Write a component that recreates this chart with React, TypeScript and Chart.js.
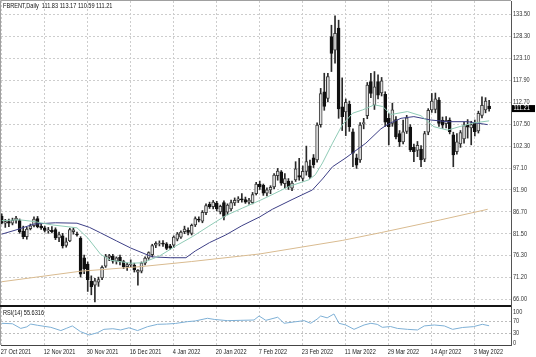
import React, { useEffect, useRef } from "react";
import { Chart, registerables } from "chart.js";
Chart.register(...registerables);

const TITLE = "FBRENT,Daily  111.83 113.17 110.59 111.21";
const RSI_TITLE = "RSI(14) 55.6316";
const LAST_PRICE = 111.21;

const opens = [
  85.6, 84.0, 84.4, 84.0, 84.7, 84.6, 82.1, 80.8, 82.7, 83.4,
  85.1, 83.3, 82.9, 82.2, 82.3, 82.5, 80.5, 81.0, 78.7, 79.8,
  82.0, 81.4, 80.4, 75.8, 74.3, 70.2, 69.3, 70.0, 71.0, 73.8,
  75.9, 76.2, 75.0, 75.9, 74.9, 73.7, 74.1, 74.0, 72.4, 72.6,
  74.5, 75.7, 76.5, 78.8, 79.2, 79.3, 79.1, 78.6, 78.8, 80.2,
  80.7, 82.0, 82.3, 81.6, 83.6, 85.0, 84.5, 86.5, 88.5, 87.9,
  88.8, 86.7, 88.9, 86.6, 87.4, 88.8, 89.4, 89.8, 89.6, 89.0,
  88.9, 91.0, 93.3, 93.0, 91.1, 91.9, 92.6, 95.3, 96.2, 93.4,
  94.0, 92.3, 94.3, 95.3, 94.6, 96.3, 97.6, 99.5, 99.0, 107.4,
  115.2, 113.6, 128.3, 125.1, 130.3, 111.6, 110.4, 112.2, 105.7, 99.5,
  99.0, 107.6, 109.5, 117.6, 112.0, 117.6, 114.9, 114.6, 108.9, 107.7,
  108.6, 105.3, 103.3, 105.8, 106.8, 102.0, 101.3, 101.6, 99.2, 105.6,
  110.9, 111.0, 113.2, 108.4, 107.6, 108.5, 105.0, 101.0, 102.8, 104.0,
  107.3, 106.6, 107.7, 105.9, 109.6, 110.9, 111.83,
];
const highs = [
  86.2, 84.9, 85.0, 85.2, 85.6, 85.0, 83.3, 83.0, 83.8, 85.5,
  85.6, 83.9, 83.3, 83.0, 83.2, 82.9, 81.9, 81.6, 80.5, 82.8,
  82.9, 81.9, 80.8, 76.4, 74.8, 71.5, 70.9, 71.2, 73.9, 76.6,
  76.6, 76.6, 76.0, 76.4, 75.2, 74.5, 75.3, 74.5, 73.0, 74.8,
  76.0, 77.2, 79.0, 79.6, 79.8, 79.9, 79.4, 79.0, 81.0, 81.8,
  82.2, 83.3, 82.9, 83.8, 85.5, 85.5, 87.0, 88.6, 89.0, 89.4,
  89.2, 88.3, 89.3, 88.6, 89.5, 90.0, 90.3, 91.0, 90.2, 89.9,
  91.3, 93.7, 94.0, 93.3, 92.4, 92.9, 95.8, 97.0, 96.5, 95.8,
  94.6, 94.0, 98.6, 99.4, 97.6, 102.3, 99.0, 100.3, 107.8, 116.0,
  119.6, 119.6, 131.0, 133.2, 132.2, 118.5, 113.5, 113.0, 106.4, 100.4,
  107.9, 108.9, 117.4, 119.6, 120.0, 119.2, 118.6, 115.2, 110.0, 112.5,
  109.3, 106.0, 108.5, 109.6, 107.4, 102.8, 103.4, 102.4, 105.8, 111.2,
  114.8, 114.9, 113.8, 109.2, 109.3, 109.0, 105.6, 105.3, 106.0, 108.0,
  108.6, 108.2, 108.5, 110.6, 114.0, 113.8, 113.17,
];
const lows = [
  83.8, 83.0, 83.2, 83.6, 84.0, 81.6, 80.3, 80.2, 82.4, 83.1,
  82.9, 82.5, 81.9, 81.6, 81.7, 80.1, 79.6, 78.1, 78.3, 79.6,
  81.4, 80.9, 71.2, 72.0, 67.8, 67.0, 65.3, 69.0, 70.6, 73.5,
  75.1, 74.5, 74.3, 74.1, 73.2, 72.8, 73.6, 72.4, 69.3, 72.2,
  74.1, 75.4, 76.0, 78.2, 78.6, 78.5, 77.7, 77.8, 78.2, 79.8,
  80.4, 81.5, 81.2, 81.2, 83.2, 84.3, 84.1, 86.0, 87.5, 87.4,
  86.9, 86.2, 84.8, 86.0, 86.9, 88.2, 88.9, 89.0, 88.7, 88.5,
  88.6, 90.7, 92.0, 90.6, 90.5, 91.0, 92.2, 94.2, 93.0, 92.4,
  92.0, 91.7, 93.9, 94.2, 94.0, 95.4, 94.6, 97.2, 98.5, 106.8,
  110.8, 112.8, 120.0, 122.0, 108.9, 106.0, 104.8, 105.8, 97.4, 97.0,
  98.4, 106.4, 108.8, 113.8, 111.0, 113.5, 114.2, 107.0, 102.6, 107.0,
  104.0, 102.2, 102.8, 105.3, 101.0, 98.6, 99.8, 97.4, 98.6, 105.0,
  110.3, 110.2, 107.0, 106.5, 106.6, 105.2, 97.4, 100.4, 102.0, 103.0,
  104.2, 102.6, 104.7, 105.4, 109.0, 110.2, 110.59,
];
const closes = [
  84.0, 84.4, 84.0, 84.7, 85.2, 82.0, 80.8, 82.6, 83.4, 85.0,
  83.2, 82.9, 82.3, 82.4, 82.0, 80.5, 81.3, 78.6, 79.6, 82.5,
  82.4, 81.2, 71.9, 73.2, 70.6, 68.9, 70.3, 70.6, 73.5, 76.2,
  76.3, 75.0, 75.8, 74.9, 73.7, 74.2, 74.3, 72.9, 72.8, 74.5,
  75.7, 77.0, 78.7, 79.2, 79.3, 79.0, 78.0, 78.2, 80.7, 81.5,
  81.9, 82.6, 81.8, 83.5, 85.1, 84.7, 86.6, 88.2, 87.9, 89.0,
  87.4, 88.0, 85.6, 88.3, 88.9, 89.4, 89.8, 89.5, 89.0, 89.5,
  90.8, 93.3, 92.6, 91.1, 91.9, 92.5, 95.4, 96.4, 93.5, 94.6,
  92.6, 93.5, 96.9, 94.9, 96.3, 98.6, 95.0, 97.9, 107.3, 114.8,
  111.7, 118.8, 124.3, 129.1, 111.1, 109.3, 112.7, 106.9, 100.6, 97.8,
  107.3, 107.9, 116.8, 114.8, 116.4, 114.4, 117.8, 108.0, 106.9, 110.9,
  104.5, 103.3, 105.7, 109.0, 101.4, 101.0, 102.5, 99.0, 105.3, 110.8,
  113.0, 113.5, 107.7, 107.3, 108.4, 105.7, 100.2, 103.3, 105.5, 107.2,
  106.8, 107.4, 105.7, 110.1, 112.0, 113.0, 111.21,
];

// moving averages (bar index, value)
const fastMaX = [0, 5, 9, 14, 21, 24, 27.6, 30.4, 36, 39.3, 44, 48.6, 53.2, 57.8, 62.5, 67.2, 72.3, 76, 80.1, 85.7, 87.5, 89.5, 92.3, 95, 97.9, 100.7, 104, 106.3, 108.6, 113.2, 117, 120.6, 124.4, 128.1, 131.7, 136];
const fastMaY = [84.6, 84.8, 84.4, 83.6, 82.9, 80.5, 76.6, 75.2, 74.5, 74.6, 76.2, 78.6, 80.8, 83.3, 85.8, 87.6, 89.5, 91.0, 92.7, 94.3, 95.5, 98.3, 103.0, 107.3, 110.1, 110.9, 112.1, 111.7, 109.8, 110.5, 109.5, 106.9, 106.1, 107.0, 107.8, 108.3];
const midMaX = [0, 4, 9, 15, 21, 24.5, 27.6, 32, 36, 42, 47, 51.4, 54, 58, 62.5, 67, 72, 75.5, 81, 86.7, 89.5, 92.3, 96, 101.6, 105.8, 108, 111.4, 115, 119.7, 124.4, 130, 135.6];
const midMaY = [81.4, 82.4, 83.8, 84.1, 84.0, 83.0, 81.7, 79.8, 78.1, 76.0, 75.8, 75.8, 77.4, 79.4, 81.2, 83.4, 85.5, 87.3, 89.6, 91.9, 94.5, 97.4, 99.5, 103.0, 106.4, 107.6, 108.9, 109.3, 108.5, 108.1, 108.1, 107.4];
const slowMaX = [0, 22, 39, 53, 72, 83.5, 95, 106, 122.5, 135.6];
const slowMaY = [70.1, 72.6, 73.7, 74.9, 76.7, 78.3, 79.9, 81.8, 84.8, 87.3];

const rsiX = [0, 3, 5.3, 7, 8.1, 10, 13.7, 16.5, 18, 19.7, 22, 24.4, 26.7, 28.5, 31, 33.2, 35.5, 37.9, 40.7, 43.5, 46, 48.5, 51.8, 54, 57.4, 59.3, 63, 66.5, 70.4, 71.8, 73.7, 77, 78.8, 81.7, 84.4, 86.2, 88, 89, 90.8, 92.7, 94.1, 96, 98.3, 101.1, 103, 104.8, 106.2, 108.5, 110.4, 113.2, 116, 117.9, 120.7, 123.5, 125.8, 128.6, 131.6, 134.1, 136];
const rsiY = [63.5, 62, 47, 52, 61, 57, 50.5, 40, 47, 55, 36.5, 25.8, 33, 44, 46, 42, 49, 40, 52.6, 60.2, 61, 63, 68.8, 71, 79.6, 76, 72, 73, 74, 87, 73, 83, 63.5, 68, 72, 63.5, 77, 87, 81, 93.5, 63.5, 58, 44, 58, 63.5, 60, 50.5, 53, 47, 44, 42, 55, 58, 55, 44, 50, 52.6, 60.2, 55.6];

const dateTickIdx = [0, 12, 24, 36, 48, 60, 72, 84, 96, 108, 120, 132];
const dateLabels = ["27 Oct 2021", "12 Nov 2021", "30 Nov 2021", "16 Dec 2021", "4 Jan 2022", "20 Jan 2022", "7 Feb 2022", "23 Feb 2022", "11 Mar 2022", "29 Mar 2022", "14 Apr 2022", "3 May 2022"];
const priceTicks = [133.5, 128.3, 123.1, 117.9, 112.7, 107.5, 102.3, 97.1, 91.9, 86.7, 81.5, 76.3, 71.2, 66.0];
const rsiTicks = [100, 70, 30, 0];

const X_MIN = -0.2;
const X_MAX = 142.1;
const Y_MIN = 64.34;
const Y_MAX = 136.75;
const R_MIN = -6.5;
const R_MAX = 116;

const FONT = '"Liberation Sans", Arial, sans-serif';
const GRID = "#cdcdcd";

function drawText(ctx: CanvasRenderingContext2D, text: string, x: number, y: number, color: string, size = 6.5, sx = 0.86) {
  ctx.save();
  ctx.translate(x, y);
  ctx.scale(sx, 1);
  ctx.font = `${size}px ${FONT}`;
  ctx.textAlign = "left";
  ctx.textBaseline = "middle";
  ctx.fillStyle = color;
  ctx.fillText(text, 0, 0);
  ctx.restore();
}

const mainDecor = {
  id: "mainDecor",
  afterDraw(chart: any) {
    const { ctx, chartArea: a, scales } = chart;
    ctx.save();
    ctx.strokeStyle = "#a0a0a0";
    ctx.lineWidth = 1;
    ctx.beginPath();
    ctx.moveTo(0.5, 306);
    ctx.lineTo(0.5, 0.5);
    ctx.lineTo(a.right, 0.5);
    ctx.stroke();
    ctx.fillStyle = "#151515";
    ctx.fillRect(0, 305, a.right, 2);
    drawText(ctx, TITLE, 3, 6, "#111");
    priceTicks.forEach((v) => drawText(ctx, v.toFixed(2), 513, scales.y.getPixelForValue(v), "#333"));
    const py = scales.y.getPixelForValue(LAST_PRICE);
    ctx.fillStyle = "#000";
    ctx.fillRect(512, py - 3.5, 23, 7);
    drawText(ctx, LAST_PRICE.toFixed(2), 513.5, py, "#fff");
    ctx.restore();
  },
};

const rsiDecor = {
  id: "rsiDecor",
  afterDraw(chart: any) {
    const { ctx, chartArea: a, scales } = chart;
    ctx.save();
    ctx.strokeStyle = "#a0a0a0";
    ctx.lineWidth = 1;
    ctx.beginPath();
    ctx.moveTo(0.5, 0);
    ctx.lineTo(0.5, a.bottom);
    ctx.stroke();
    drawText(ctx, RSI_TITLE, 3, 6.3, "#111");
    rsiTicks.forEach((v) => drawText(ctx, String(v), 513, scales.y.getPixelForValue(v), "#333"));
    dateTickIdx.forEach((i, k) => drawText(ctx, dateLabels[k], scales.x.getPixelForValue(i) - 1, 45, "#222"));
    ctx.restore();
  },
};

export default function App() {
  const mainRef = useRef<HTMLCanvasElement>(null);
  const rsiRef = useRef<HTMLCanvasElement>(null);

  useEffect(() => {
    const bodies = opens.map((o, i) => ({ x: i, y: [Math.min(o, closes[i]), Math.max(o, closes[i])] }));
    const wicks = opens.map((_, i) => ({ x: i, y: [lows[i], highs[i]] }));
    const bull = opens.map((o, i) => closes[i] >= o);

    const main = new Chart(mainRef.current as HTMLCanvasElement, {
      type: "bar",
      data: {
        datasets: [
          {
            type: "line",
            data: fastMaX.map((x, k) => ({ x, y: fastMaY[k] })),
            borderColor: "#8fcbb6",
            borderWidth: 1,
            pointRadius: 0,
            tension: 0,
            order: 0,
          } as any,
          {
            type: "line",
            data: midMaX.map((x, k) => ({ x, y: midMaY[k] })),
            borderColor: "#3d3f86",
            borderWidth: 1,
            pointRadius: 0,
            tension: 0,
            order: 0,
          } as any,
          {
            type: "line",
            data: slowMaX.map((x, k) => ({ x, y: slowMaY[k] })),
            borderColor: "#d9bb90",
            borderWidth: 1,
            pointRadius: 0,
            tension: 0,
            order: 0,
          } as any,
          {
            type: "bar",
            data: bodies,
            backgroundColor: bull.map((b) => (b ? "#e2e2e2" : "#111111")),
            borderColor: bull.map((b) => (b ? "#3a3a3a" : "#111111")),
            borderWidth: 1,
            borderSkipped: false,
            barThickness: 3,
            grouped: false,
            order: 1,
          } as any,
          {
            type: "bar",
            data: wicks,
            backgroundColor: "#2a2a2a",
            borderWidth: 0,
            barThickness: 1,
            grouped: false,
            order: 2,
          } as any,
        ],
      },
      options: {
        animation: false,
        responsive: false,
        devicePixelRatio: 1,
        events: [],
        layout: { padding: { left: 1, top: 1, right: 0, bottom: 1 } },
        plugins: { legend: { display: false }, tooltip: { enabled: false } },
        scales: {
          x: {
            type: "linear",
            min: X_MIN,
            max: X_MAX,
            offset: false,
            afterBuildTicks: (s: any) => {
              s.ticks = dateTickIdx.map((v) => ({ value: v }));
            },
            afterFit: (s: any) => {
              s.height = 0;
            },
            ticks: { display: false },
            grid: { color: GRID, drawTicks: false, offset: false },
            border: { display: false, dash: [2, 2] },
          },
          y: {
            type: "linear",
            position: "right",
            min: Y_MIN,
            max: Y_MAX,
            beginAtZero: false,
            afterBuildTicks: (s: any) => {
              s.ticks = priceTicks.map((v) => ({ value: v }));
            },
            afterFit: (s: any) => {
              s.width = 25;
            },
            ticks: { display: false },
            grid: { color: GRID, drawTicks: false },
            border: { display: true, color: "#555", width: 1, dash: [2, 2] },
          },
        },
      } as any,
      plugins: [mainDecor],
    });

    const rsi = new Chart(rsiRef.current as HTMLCanvasElement, {
      type: "line",
      data: {
        datasets: [
          {
            data: rsiX.map((x, k) => ({ x, y: rsiY[k] })),
            borderColor: "#7eb0d6",
            borderWidth: 1,
            pointRadius: 0,
            tension: 0,
          },
        ],
      },
      options: {
        animation: false,
        responsive: false,
        devicePixelRatio: 1,
        events: [],
        layout: { padding: { left: 1, top: 0, right: 0, bottom: 0 } },
        plugins: { legend: { display: false }, tooltip: { enabled: false } },
        scales: {
          x: {
            type: "linear",
            min: X_MIN,
            max: X_MAX,
            offset: false,
            afterBuildTicks: (s: any) => {
              s.ticks = dateTickIdx.map((v) => ({ value: v }));
            },
            afterFit: (s: any) => {
              s.height = 12;
            },
            ticks: { display: false },
            grid: { color: GRID, drawTicks: false },
            border: { display: true, color: "#444", width: 1, dash: [2, 2] },
          },
          y: {
            type: "linear",
            position: "right",
            min: R_MIN,
            max: R_MAX,
            afterBuildTicks: (s: any) => {
              s.ticks = rsiTicks.map((v) => ({ value: v }));
            },
            afterFit: (s: any) => {
              s.width = 25;
            },
            ticks: { display: false },
            grid: {
              drawTicks: false,
              color: (c: any) => (c.tick && (c.tick.value === 30 || c.tick.value === 70) ? "#bdbdbd" : "rgba(0,0,0,0)"),
            },
            border: { display: true, color: "#555", width: 1, dash: [2, 2] },
          },
        },
      } as any,
      plugins: [rsiDecor],
    });

    return () => {
      main.destroy();
      rsi.destroy();
    };
  }, []);

  return (
    <div style={{ position: "absolute", left: 0, top: 0, width: 536, height: 357, background: "#fff" }}>
      <canvas ref={mainRef} width={536} height={307} style={{ position: "absolute", left: 0, top: 0, width: 536, height: 307 }} />
      <canvas ref={rsiRef} width={536} height={50} style={{ position: "absolute", left: 0, top: 307, width: 536, height: 50 }} />
    </div>
  );
}
